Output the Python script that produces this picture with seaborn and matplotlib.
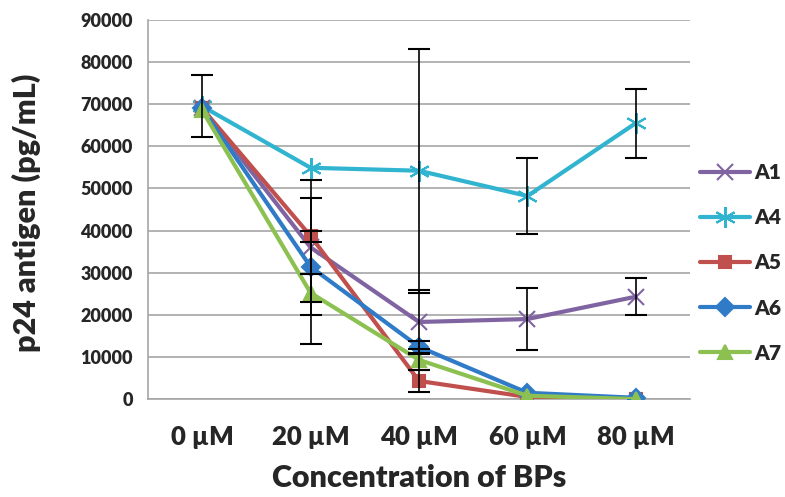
import pandas as pd
import matplotlib
matplotlib.use("Agg")
import matplotlib.pyplot as plt
import seaborn as sns

# values
conc = ["0 \u00b5M", "20 \u00b5M", "40 \u00b5M", "60 \u00b5M", "80 \u00b5M"]
a1 = [69000, 36000, 18300, 19000, 24300]
a4 = [69500, 54900, 54200, 48200, 65500]
a5 = [69000, 38700, 4300, 500, 0]
a6 = [69000, 31400, 12400, 1500, 300]
a7 = [68500, 25200, 9300, 800, 0]

a1_err = [0, 16000, 7500, 7300, 4400]
a4_err = [7300, 0, 29000, 9000, 8200]
a5_err = [0, 9000, 2700, 0, 0]
a6_err = [0, 8400, 1500, 0, 0]
a7_err = [0, 12200, 2500, 0, 0]

names = ["A1", "A4", "A5", "A6", "A7"]
vals = [a1, a4, a5, a6, a7]
errs = [a1_err, a4_err, a5_err, a6_err, a7_err]
colors = ["#8064A2", "#30B4D0", "#C0504D", "#2F7BC8", "#8CC152"]
marks = ["x", (6, 2, 0), "s", "D", "^"]
msize = [12, 15, 9, 9, 10]

sns.set_style("white")
plt.rcParams["font.family"] = ["Lato", "DejaVu Sans"]
plt.rcParams["font.weight"] = "heavy"

fig = plt.figure(figsize=(7.85, 4.97), dpi=100)
ax = fig.add_axes([0.1885, 0.197, 0.6905, 0.763])

for n, v, c, m, s in zip(names, vals, colors, marks, msize):
    d = pd.DataFrame({"conc": conc, "p24": v})
    sns.lineplot(data=d, x="conc", y="p24", color=c, marker=m, markersize=s,
                 markeredgewidth=1.5, markeredgecolor=c, linewidth=3, sort=False,
                 label=n, ax=ax, zorder=3)

# only draw the error bars that show in the picture
for v, e in zip(vals, errs):
    keep = [i for i in range(len(conc)) if e[i] > 0]
    ax.errorbar([conc[i] for i in keep], [v[i] for i in keep],
                yerr=[e[i] for i in keep], fmt="none", ecolor="black",
                elinewidth=1.2, capsize=8, capthick=1.5, zorder=5)

ax.set_ylim(0, 90000)
ax.set_xlim(-0.5, 4.5)
ax.set_yticks(range(0, 90001, 10000))
ax.yaxis.grid(True, color="#a6a6a6", linewidth=1.2)
for s in ["top", "right"]:
    ax.spines[s].set_visible(False)
ax.spines["left"].set_color("#a6a6a6")
ax.spines["bottom"].set_color("#a6a6a6")
ax.spines["left"].set_linewidth(1.2)
ax.spines["bottom"].set_linewidth(1.2)

ax.set_xticks([x - 0.5 for x in range(6)], minor=True)
ax.tick_params(axis="x", which="major", length=0, labelsize=18.5, pad=19)
ax.tick_params(axis="x", which="minor", length=6, color="#a6a6a6", width=1.2)
ax.tick_params(axis="y", length=6, color="#a6a6a6", width=1.2, labelsize=13, pad=5)
for lab in ax.get_xticklabels() + ax.get_yticklabels():
    lab.set_fontweight("heavy")

ax.set_xlabel("Concentration of BPs", fontsize=22, fontweight="heavy")
ax.set_ylabel("p24 antigen (pg/mL)", fontsize=22, fontweight="heavy")
ax.xaxis.set_label_coords(0.5, -0.172)
ax.yaxis.set_label_coords(-0.197, 0.49)

leg = ax.legend(loc="center left", bbox_to_anchor=(700 / 785, 1 - 263 / 497),
                bbox_transform=fig.transFigure, frameon=False, borderpad=0,
                borderaxespad=0, handlelength=2.4, labelspacing=1.25,
                handletextpad=0.2, prop={"weight": "heavy", "size": 15})

fig.savefig("out.png", dpi=100)
